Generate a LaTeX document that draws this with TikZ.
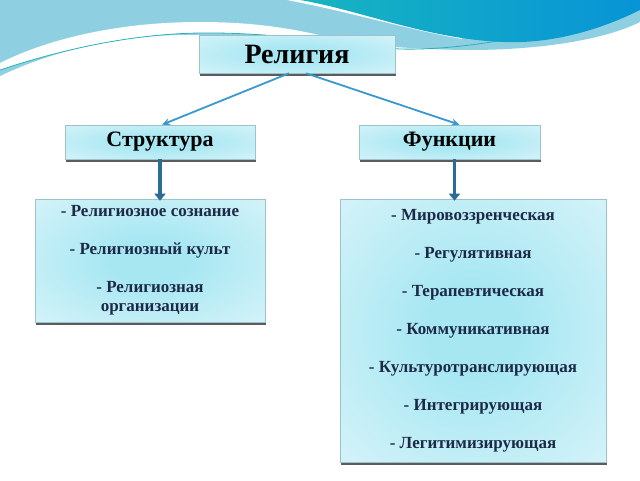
\documentclass[tikz,border=0pt]{standalone}
\usepackage{fontspec}
\setmainfont{Liberation Serif}
\usetikzlibrary{shadows,arrows.meta}

\definecolor{boxin}{HTML}{A6E7F2}
\definecolor{boxout}{HTML}{EAF8FC}
\definecolor{boxline}{HTML}{9CC2CC}
\definecolor{navy}{HTML}{1C2A48}
\definecolor{thinarr}{HTML}{3A98CF}
\definecolor{thickarr}{HTML}{2A6C96}
\definecolor{wavelight}{HTML}{8ED0E2}
\definecolor{waveline}{HTML}{2AB0B8}
\definecolor{wavedarkA}{HTML}{17B5C0}
\definecolor{wavedarkB}{HTML}{0894D6}

\pgfdeclareradialshading{boxshade}{\pgfpoint{0bp}{0bp}}{%
	color(0bp)=(boxin); color(8bp)=(boxin); color(30bp)=(boxin!45!boxout);
	color(50bp)=(boxout)}

\begin{document}
\begin{tikzpicture}[x=1pt, y=-1pt,
	box/.style = {draw=boxline, line width=0.6pt, shading=boxshade,
		drop shadow={shadow xshift=1pt, shadow yshift=-2.5pt, opacity=0.8, fill=black!80}},
	head/.style = {box, font=\fontsize{22}{26}\selectfont\bfseries},
	list/.style = {box, align=center, text=navy, font=\fontsize{17}{19}\selectfont\bfseries},
	thin/.style = {thinarr, line width=1.8pt, -{Stealth[length=8pt, width=7pt]}},
	thick/.style = {thickarr, line width=3.5pt, -{Triangle[length=7pt, width=11pt]}}]
	\useasboundingbox (0,0) rectangle (640,480);
	% waves at the top
	\fill[wavelight] (0,0) -- (640,0) -- (640,22) .. controls (600,42) and (530,50) .. (470,50)
		.. controls (400,50) and (300,38) .. (200,35) .. controls (120,33) and (50,52) .. (0,76) -- cycle;
	\fill[white] (0,63) .. controls (50,38) and (120,22) .. (200,22) .. controls (260,22) and (300,30) .. (340,40)
		.. controls (290,36) and (250,33) .. (200,33) .. controls (130,34) and (60,50) .. (0,70) -- cycle;
	\draw[waveline, line width=0.8pt] (0,70) .. controls (60,50) and (130,34) .. (200,33)
		.. controls (280,32) and (350,46) .. (400,49) .. controls (470,51) and (570,30) .. (640,4);
	\fill[white] (287,0) .. controls (350,12) and (410,30) .. (462,39) -- (462,0) -- cycle;
	\shade[left color=wavedarkA, right color=wavedarkB] (300,0) .. controls (360,10) and (430,40) .. (505,42)
		.. controls (560,44) and (610,25) .. (640,10) -- (640,0) -- cycle;

	\node[head, font=\fontsize{28}{32}\selectfont\bfseries, minimum width=196pt, minimum height=38pt] (rel) at (297,54) {Религия};
	\node[head, minimum width=190pt, minimum height=34pt] (str) at (160,142) {Структура};
	\node[head, minimum width=181pt, minimum height=34pt] (fun) at (449.5,142) {Функции};
	\node[list, minimum width=230pt, minimum height=123pt] (sl) at (150,260.5)
		{- Религиозное сознание\\[19pt] - Религиозный культ\\[19pt] - Религиозная\\ организации};
	\node[list, minimum width=266pt, minimum height=263pt] (fl) at (473,330.5)
		{- Мировоззренческая\\[19pt] - Регулятивная\\[19pt] - Терапевтическая\\[19pt] - Коммуникативная\\[19pt]
		- Культуротранслирующая\\[19pt] - Интегрирующая\\[19pt] - Легитимизирующая};

	\draw[thin] ([xshift=-8pt]rel.south) -- ([xshift=2pt]str.north);
	\draw[thin] ([xshift=9pt]rel.south) -- ([xshift=10pt]fun.north);
	\draw[thick] (str.south) -- ([yshift=-2pt]str.south |- sl.north);
	\draw[thick] ([xshift=5pt]fun.south) -- ([xshift=5pt, yshift=-2pt]fun.south |- fl.north);
\end{tikzpicture}
\end{document}
